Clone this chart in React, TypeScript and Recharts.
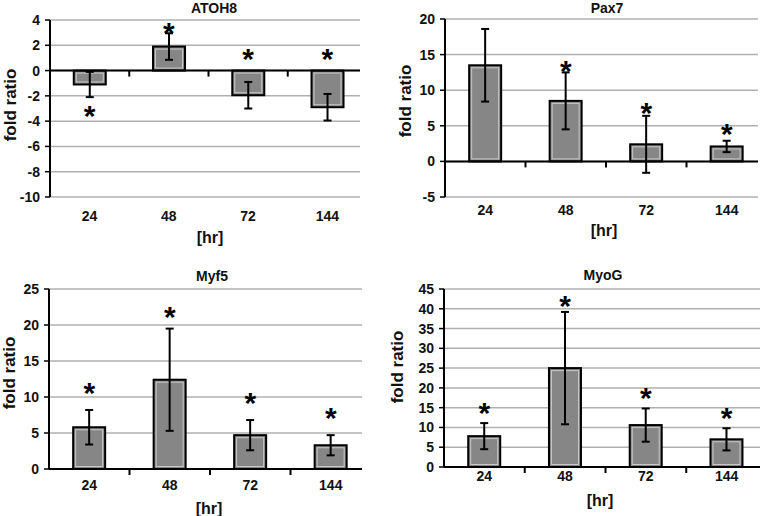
import React from 'react';
import { ComposedChart, Bar, ErrorBar, Scatter, XAxis, YAxis, CartesianGrid, ReferenceLine } from 'recharts';

const hours = ['24', '48', '72', '144'];

const atoh8Mean = [-1.1, 1.9, -1.95, -2.9];
const atoh8Err = [1.0, 1.05, 1.05, 1.05];
const atoh8Star = [-3.1, 3.45, 1.4, 1.4];

const pax7Mean = [13.5, 8.5, 2.4, 2.1];
const pax7Err = [5.1, 4.0, 4.0, 0.8];
const pax7Star = [21.1, 13.6, 7.7, 4.7];

const myf5Mean = [5.8, 12.4, 4.7, 3.3];
const myf5Err = [2.4, 7.1, 2.1, 1.4];
const myf5Star = [11.4, 21.9, 10.0, 7.9];

const myogMean = [7.8, 25.0, 10.6, 7.0];
const myogErr = [3.3, 14.2, 4.2, 2.8];
const myogStar = [15.2, 42.3, 19.0, 14.0];

const atoh8Ticks = [-10, -8, -6, -4, -2, 0, 2, 4];
const pax7Ticks = [-5, 0, 5, 10, 15, 20];
const myf5Ticks = [0, 5, 10, 15, 20, 25];
const myogTicks = [0, 5, 10, 15, 20, 25, 30, 35, 40, 45];

const FONT = '"Liberation Sans", Arial, sans-serif';

const rows = (mean: number[], err: number[], star: number[]) =>
    hours.map((hr, i) => ({ hr, mean: mean[i], err: err[i], star: star[i] }));

const GrayBar = (props: any) => {
    const { x, y, width, height } = props;
    const top = Math.min(y, y + height);
    const h = Math.abs(height);
    return (
        <g>
            <rect x={x} y={top} width={width} height={h} fill="#868686" stroke="#000" strokeWidth={2} />
            {h > 6 && (
                <rect x={x + 2.5} y={top + 2.5} width={width - 5} height={h - 5} fill="none" stroke="#c8c8c8" strokeWidth={1} />
            )}
        </g>
    );
};

const Star = (props: any) => (
    <text x={props.cx} y={props.cy + 16} textAnchor="middle" fontSize={30} fontWeight="bold" fontFamily={FONT} fill="#000">
        *
    </text>
);

interface PanelProps {
    title: string;
    data: any[];
    domain: [number, number];
    ticks: number[];
    left: number;
    top: number;
    w: number;
    h: number;
    plotL: number;
    plotT: number;
    plotR: number;
    plotB: number;
    ext: number;
    tickGap: number;
    titleX: number;
    titleY: number;
    ylabX: number;
    ylabY: number;
    hrX: number;
    hrY: number;
}

const Panel: React.FC<PanelProps> = (p) => {
    const band = (p.plotR - p.plotL + p.ext) / 4;
    const tickStyle = { fill: '#111', fontSize: 14, fontWeight: 'bold', fontFamily: FONT };
    // pixel row of the zero line, for the category-boundary marks
    const zeroY = p.plotT + (p.domain[1] / (p.domain[1] - p.domain[0])) * (p.plotB - p.plotT);

    return (
        <div style={{ position: 'absolute', left: p.left, top: p.top, width: p.w, height: p.h }}>
            <ComposedChart
                width={p.w}
                height={p.h}
                data={p.data}
                margin={{ top: p.plotT, right: p.w - p.plotR, bottom: p.h - p.plotB - 20, left: 0 }}
                barCategoryGap="30%"
            >
                <CartesianGrid vertical={false} stroke="#b0b0b0" strokeWidth={1.5} />
                <XAxis
                    dataKey="hr"
                    height={20}
                    axisLine={false}
                    tickLine={false}
                    tickSize={0}
                    tickMargin={p.tickGap}
                    interval={0}
                    padding={{ left: 0, right: -p.ext }}
                    tick={tickStyle}
                />
                <YAxis
                    width={p.plotL}
                    domain={p.domain}
                    ticks={p.ticks}
                    interval={0}
                    allowDataOverflow
                    axisLine={{ stroke: '#000', strokeWidth: 2 }}
                    tickLine={{ stroke: '#000', strokeWidth: 1.5 }}
                    tickSize={5}
                    tickMargin={5}
                    tick={tickStyle}
                />
                <ReferenceLine y={0} stroke="#000" strokeWidth={2} />
                <Bar dataKey="mean" shape={GrayBar} isAnimationActive={false}>
                    <ErrorBar dataKey="err" width={4} stroke="#000" strokeWidth={2} />
                </Bar>
                <Scatter dataKey="star" shape={Star} isAnimationActive={false} />
                <text x={p.titleX} y={p.titleY} textAnchor="middle" fontSize={14} fontWeight="bold" fontFamily={FONT} fill="#111">
                    {p.title}
                </text>
                <text
                    x={p.ylabX}
                    y={p.ylabY}
                    transform={`rotate(-90 ${p.ylabX} ${p.ylabY})`}
                    textAnchor="middle"
                    dominantBaseline="central"
                    fontSize={17}
                    fontWeight="bold"
                    fontFamily={FONT}
                    fill="#111"
                >
                    fold ratio
                </text>
                <text x={p.hrX} y={p.hrY} textAnchor="middle" dominantBaseline="central" fontSize={16} fontWeight="bold" fontFamily={FONT} fill="#111">
                    [hr]
                </text>
            </ComposedChart>
            <svg width={p.w} height={p.h} style={{ position: 'absolute', left: 0, top: 0, pointerEvents: 'none' }}>
                {[1, 2, 3].map(k => (
                    <line key={k} x1={p.plotL + k * band} x2={p.plotL + k * band} y1={zeroY} y2={zeroY + 6} stroke="#000" strokeWidth={2} />
                ))}
            </svg>
        </div>
    );
};

export default function App() {
    return (
        <div style={{ position: 'absolute', left: 0, top: 0, width: 761, height: 516, overflow: 'hidden', background: '#fff' }}>
            <Panel
                title="ATOH8" data={rows(atoh8Mean, atoh8Err, atoh8Star)} domain={[-10, 4]} ticks={atoh8Ticks}
                left={0} top={0} w={380} h={258} plotL={50} plotT={20} plotR={360} plotB={197} ext={7} tickGap={14}
                titleX={214} titleY={13} ylabX={10} ylabY={105} hrX={210} hrY={237}
            />
            <Panel
                title="Pax7" data={rows(pax7Mean, pax7Err, pax7Star)} domain={[-5, 20]} ticks={pax7Ticks}
                left={380} top={0} w={381} h={258} plotL={65} plotT={19} plotR={378} plotB={197} ext={9} tickGap={8}
                titleX={227} titleY={13} ylabX={25} ylabY={101} hrX={224} hrY={230}
            />
            <Panel
                title="Myf5" data={rows(myf5Mean, myf5Err, myf5Star)} domain={[0, 25]} ticks={myf5Ticks}
                left={0} top={258} w={380} h={258} plotL={49} plotT={31} plotR={362} plotB={211} ext={9} tickGap={11}
                titleX={212} titleY={23} ylabX={9} ylabY={115} hrX={209} hrY={250}
            />
            <Panel
                title="MyoG" data={rows(myogMean, myogErr, myogStar)} domain={[0, 45]} ticks={myogTicks}
                left={380} top={258} w={381} h={258} plotL={64} plotT={31} plotR={380} plotB={209} ext={7} tickGap={4}
                titleX={223} titleY={22} ylabX={17} ylabY={109} hrX={220} hrY={242}
            />
        </div>
    );
}
